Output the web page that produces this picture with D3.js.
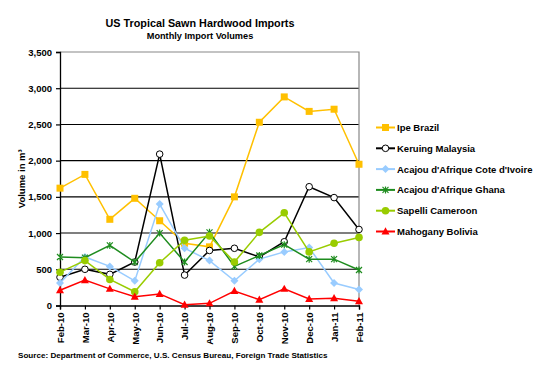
<!DOCTYPE html>
<html><head><meta charset="utf-8">
<script src="https://cdn.jsdelivr.net/npm/d3@7"></script>
<style>body{margin:0;background:#fff}svg{display:block}text{font-family:"Liberation Sans",Arial,sans-serif;font-weight:bold;fill:#000}</style>
</head><body><svg id="c" width="548" height="378"></svg>
<script>
const months = ["Feb-10","Mar-10","Apr-10","May-10","Jun-10","Jul-10","Aug-10","Sep-10","Oct-10","Nov-10","Dec-10","Jan-11","Feb-11"];
const ipeBrazil = [1620,1810,1190,1480,1170,860,810,1500,2530,2880,2680,2710,1950];
const keruingMalaysia = [390,500,430,600,2090,420,760,790,670,880,1640,1490,1050];
const acajouCoteIvoire = [310,670,540,340,1400,790,620,340,640,740,800,310,220];
const acajouGhana = [670,660,830,600,1000,600,1010,540,690,840,640,640,490];
const sapelliCameroon = [460,620,360,190,590,900,960,600,1010,1280,740,860,940];
const mahoganyBolivia = [210,350,230,120,160,10,30,200,80,230,90,100,60];
const yTicks = [0,500,1000,1500,2000,2500,3000,3500];

const series = [
  {name:"Ipe Brazil", values:ipeBrazil, color:"#FFC000", marker:"square"},
  {name:"Keruing Malaysia", values:keruingMalaysia, color:"#000000", marker:"circleOpen"},
  {name:"Acajou d'Afrique Cote d'Ivoire", values:acajouCoteIvoire, color:"#99CCFF", marker:"diamond"},
  {name:"Acajou d'Afrique Ghana", values:acajouGhana, color:"#1E8C1E", marker:"star"},
  {name:"Sapelli Cameroon", values:sapelliCameroon, color:"#99CC00", marker:"circle"},
  {name:"Mahogany Bolivia", values:mahoganyBolivia, color:"#FF0000", marker:"triangle"}
];

const svg = d3.select("#c");
const L=60, R=359, T=52, B=305.5;
const x = d3.scalePoint().domain(months).range([L,R]);
const y = d3.scaleLinear().domain([0,3500]).range([B,T]);

// gridlines
svg.append("g").selectAll("line").data(yTicks.filter(d=>d>0&&d<3500)).join("line")
  .attr("x1",L).attr("x2",R).attr("y1",d=>y(d)).attr("y2",d=>y(d))
  .attr("stroke","#000").attr("stroke-width",1.1);
// border top & right gray
svg.append("path").attr("d",`M${L},${y(3500)}H${R}V${B}`).attr("fill","none").attr("stroke","#888").attr("stroke-width",1.2);

// y axis
const ya = svg.append("g").attr("transform",`translate(${L},0)`)
  .call(d3.axisLeft(y).tickValues(yTicks).tickFormat(d3.format(",")).tickSize(4).tickPadding(4));
ya.select(".domain").attr("stroke","#000").attr("stroke-width",1.3);
ya.selectAll(".tick line").attr("stroke","#000").attr("stroke-width",1.2);
ya.selectAll("text").style("font-size","9.5px").style("font-weight","bold").attr("fill","#000").attr("font-family","Liberation Sans, Arial, sans-serif");

// x axis
const xa = svg.append("g").attr("transform",`translate(0,${B})`)
  .call(d3.axisBottom(x).tickSize(4).tickPadding(3));
xa.select(".domain").attr("stroke","#000").attr("stroke-width",1.3);
xa.selectAll(".tick line").attr("stroke","#000").attr("stroke-width",1.2);
xa.selectAll("text").style("font-size","9.5px").style("font-weight","bold").attr("fill","#000")
  .attr("font-family","Liberation Sans, Arial, sans-serif")
  .attr("transform","rotate(-90)").attr("text-anchor","end").attr("y",0).attr("x",-7).attr("dy","0.35em");

function drawMarker(g, type, color, cx, cy){
  if(type==="square"){
    g.append("rect").attr("x",cx-3.5).attr("y",cy-3.5).attr("width",7).attr("height",7).attr("fill",color);
  } else if(type==="circleOpen"){
    g.append("circle").attr("cx",cx).attr("cy",cy).attr("r",3.3).attr("fill","#fff").attr("stroke",color).attr("stroke-width",1);
  } else if(type==="diamond"){
    g.append("path").attr("d",`M${cx},${cy-4}L${cx+4},${cy}L${cx},${cy+4}L${cx-4},${cy}Z`).attr("fill",color);
  } else if(type==="star"){
    g.append("path").attr("d",`M${cx-3},${cy-3}L${cx+3},${cy+3}M${cx-3},${cy+3}L${cx+3},${cy-3}M${cx},${cy-3.5}L${cx},${cy+3.5}`)
      .attr("stroke",color).attr("stroke-width",1.2).attr("fill","none");
  } else if(type==="circle"){
    g.append("circle").attr("cx",cx).attr("cy",cy).attr("r",3.8).attr("fill",color);
  } else if(type==="triangle"){
    g.append("path").attr("d",`M${cx},${cy-4.2}L${cx+4},${cy+3}L${cx-4},${cy+3}Z`).attr("fill",color);
  }
}

const line = d3.line().x((d,i)=>x(months[i])).y(d=>y(d));
series.forEach(s=>{
  const g = svg.append("g");
  g.append("path").datum(s.values).attr("d",line).attr("fill","none").attr("stroke",s.color).attr("stroke-width",1.5);
  s.values.forEach((v,i)=>drawMarker(g,s.marker,s.color,x(months[i]),y(v)));
});

// legend
const lg = svg.append("g");
series.forEach((s,i)=>{
  const ly = 127.5 + i*20.8;
  lg.append("line").attr("x1",376).attr("x2",395).attr("y1",ly).attr("y2",ly).attr("stroke",s.color).attr("stroke-width",2);
  drawMarker(lg,s.marker,s.color,385.5,ly);
  lg.append("text").attr("x",397).attr("y",ly+3.5).style("font-size","9.5px").text(s.name);
});

// titles
svg.append("text").attr("x",200).attr("y",27).attr("text-anchor","middle").style("font-size","10.8px").text("US Tropical Sawn Hardwood Imports");
svg.append("text").attr("x",200).attr("y",38.5).attr("text-anchor","middle").style("font-size","9.2px").text("Monthly Import Volumes");

// y label
svg.append("text").attr("transform",`translate(25,${(T+B)/2}) rotate(-90)`).attr("text-anchor","middle").style("font-size","9.5px")
  .text("Volume in m³");

// source
svg.append("text").attr("x",18).attr("y",358).style("font-size","8.1px").text("Source: Department of Commerce, U.S. Census Bureau, Foreign Trade Statistics");
</script></body></html>
